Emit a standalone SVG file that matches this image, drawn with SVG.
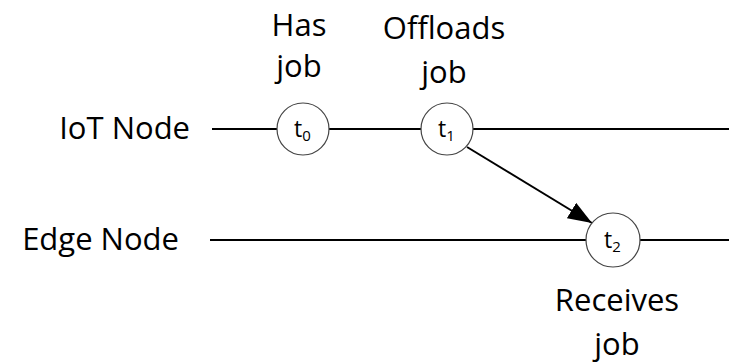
<svg xmlns="http://www.w3.org/2000/svg" width="729" height="363" viewBox="0 0 729 363">
<style>
text{font-family:"Open Sans","Liberation Sans",sans-serif;fill:#000}
.lbl{font-size:31px}
.t{font-size:23px}
.sub{font-size:15px}
.ln{stroke:#000;stroke-width:2;fill:none}
.nd{fill:#fff;stroke:#444;stroke-width:1.2}
</style>
<defs>
<marker id="ah" viewBox="0 0 24 18" refX="24" refY="9" markerWidth="24" markerHeight="18" markerUnits="userSpaceOnUse" orient="auto"><path d="M0,0L24,9L0,18z" fill="#000"/></marker>
</defs>
<g id="lanes">
<text class="lbl" x="190" y="139" text-anchor="end">IoT Node</text>
<text class="lbl" x="179" y="250" text-anchor="end">Edge Node</text>
</g>
<g id="connectors">
<line class="ln" x1="212" y1="129" x2="729" y2="129"/>
<line class="ln" x1="210" y1="240" x2="729" y2="240"/>
<line class="ln" x1="467" y1="147" x2="592" y2="223" marker-end="url(#ah)"/>
</g>
<g id="t0">
<circle class="nd" cx="303" cy="129" r="26"/>
<text class="t" x="294" y="137">t<tspan class="sub" dy="4">0</tspan></text>
<text class="lbl" x="299" y="36" text-anchor="middle">Has</text>
<text class="lbl" x="299" y="77" text-anchor="middle">job</text>
</g>
<g id="t1">
<circle class="nd" cx="447" cy="129" r="26"/>
<text class="t" x="438" y="137">t<tspan class="sub" dy="4">1</tspan></text>
<text class="lbl" x="444" y="39" text-anchor="middle">Offloads</text>
<text class="lbl" x="444" y="83" text-anchor="middle">job</text>
</g>
<g id="t2">
<circle class="nd" cx="613" cy="240" r="27"/>
<text class="t" x="604" y="248">t<tspan class="sub" dy="4">2</tspan></text>
<text class="lbl" x="617" y="311" text-anchor="middle">Receives</text>
<text class="lbl" x="617" y="355" text-anchor="middle">job</text>
</g>
</svg>
